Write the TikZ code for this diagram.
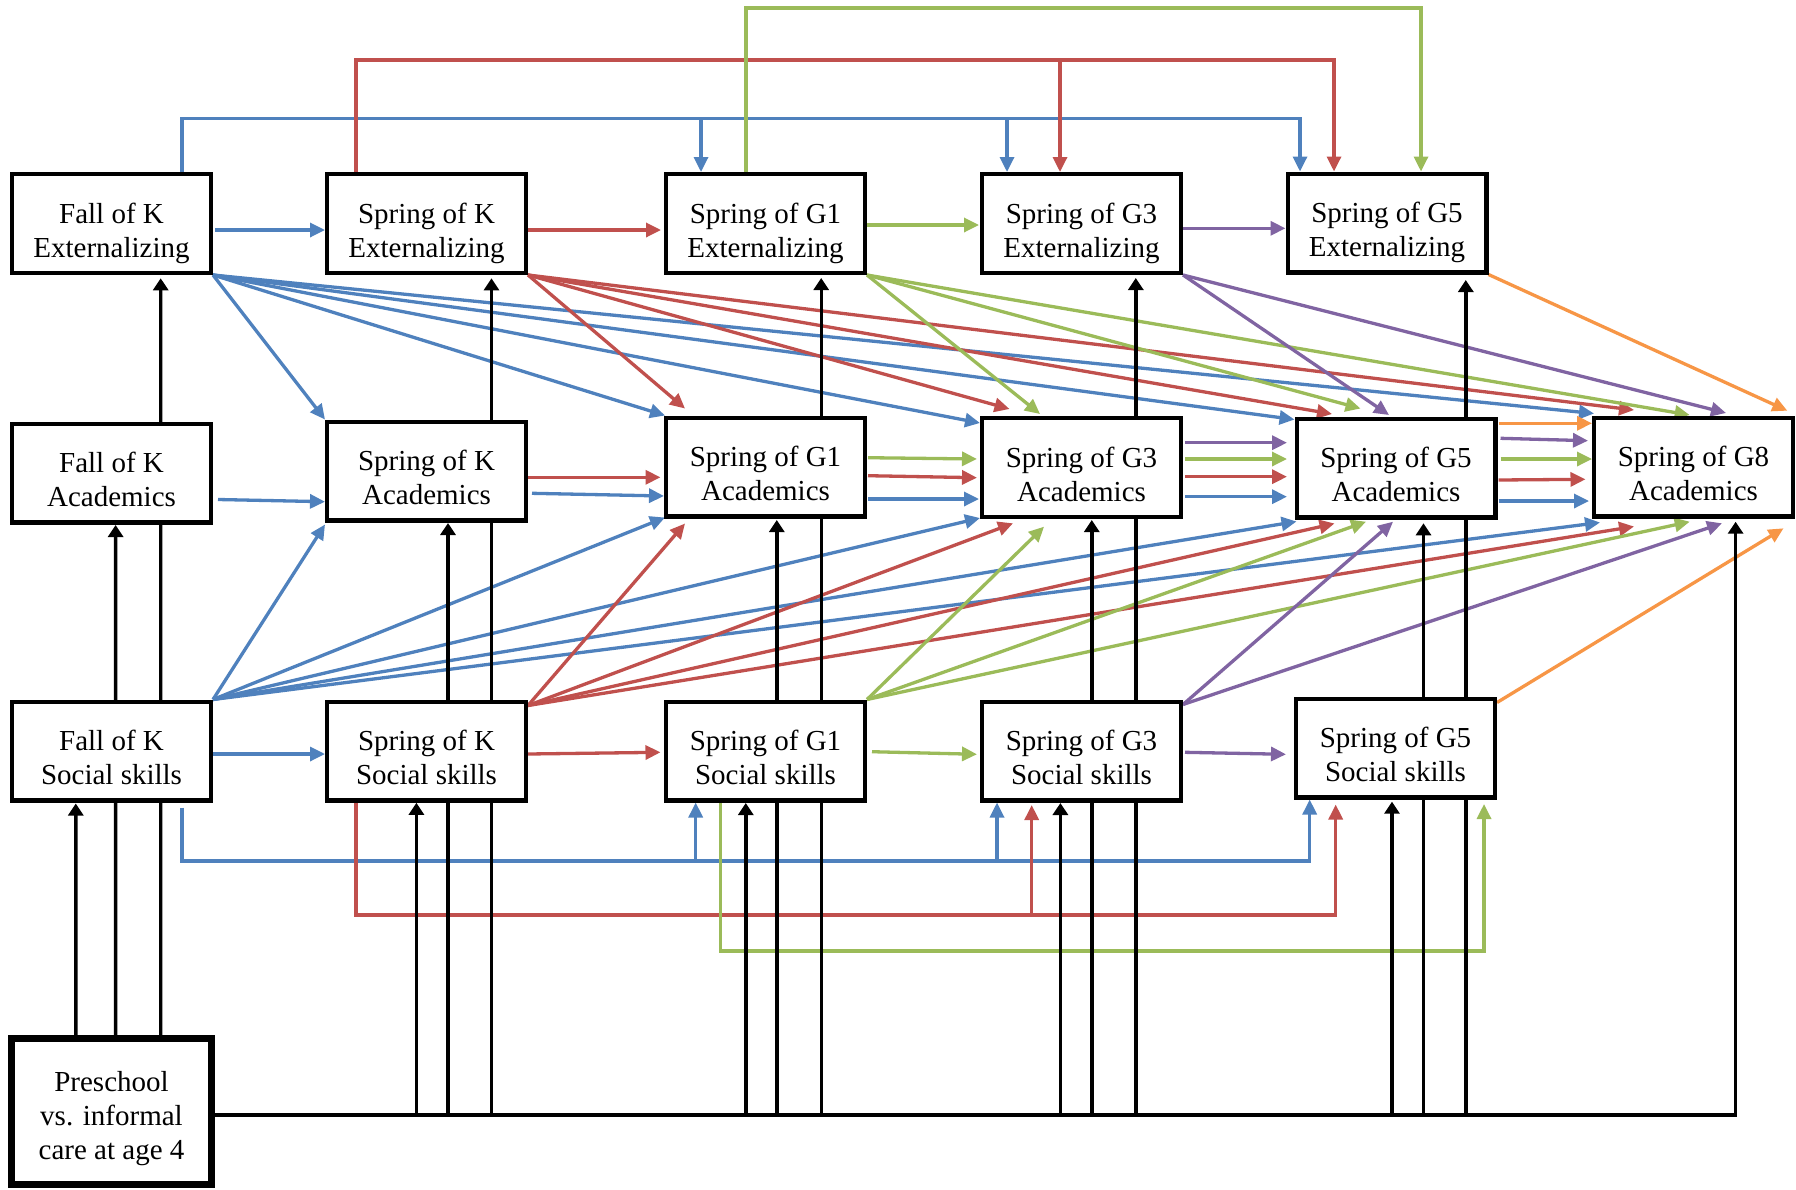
\documentclass[tikz,border=0pt]{standalone}
\usepackage{fontspec}
\setmainfont{Liberation Serif}
\usetikzlibrary{arrows.meta,calc,backgrounds}
\definecolor{cB}{HTML}{4F81BD}
\definecolor{cR}{HTML}{C0504D}
\definecolor{cG}{HTML}{9BBB59}
\definecolor{cP}{HTML}{8064A2}
\definecolor{cO}{HTML}{F79646}
\newcommand{\twol}[2]{\raisebox{-10pt}[\height][\depth]{\begin{tabular}{@{}c@{}}#1\\#2\end{tabular}}}
\begin{document}
\begin{tikzpicture}[x=1pt,y=-1pt,
  bx/.style={draw, line width=4.2pt, fill=white, minimum width=198.8pt, minimum height=98.8pt, inner sep=0pt, font=\fontsize{29}{34}\selectfont},
  arr/.style={-{Triangle[length=15pt,width=14pt]}},
  cl/.style={line width=3.3pt, arr},
  lB/.style={cl, draw=cB},
  lR/.style={cl, draw=cR},
  lG/.style={cl, draw=cG},
  lP/.style={cl, draw=cP},
  lO/.style={cl, draw=cO},
  bka/.style={line width=3.4pt, draw=black, -{Triangle[length=12pt,width=15pt]}}]
\useasboundingbox (0,0) rectangle (1796,1189);
% nodes
\node[bx] (fkE) at (111.5,223.5) {\twol{Fall of K}{Externalizing}};
\node[bx] (skE) at (426.5,223.5) {\twol{Spring of K}{Externalizing}};
\node[bx] (g1E) at (765.5,223.5) {\twol{Spring of G1}{Externalizing}};
\node[bx] (g3E) at (1081.5,223.5) {\twol{Spring of G3}{Externalizing}};
\node[bx] (g5E) at (1387,223) {\twol{Spring of G5}{Externalizing}};
\node[bx] (fkA) at (111.5,473) {\twol{Fall of K}{Academics}};
\node[bx] (skA) at (426.5,471) {\twol{Spring of K}{Academics}};
\node[bx] (g1A) at (765.5,467) {\twol{Spring of G1}{Academics}};
\node[bx] (g3A) at (1081.5,467.5) {\twol{Spring of G3}{Academics}};
\node[bx] (g5A) at (1396,468) {\twol{Spring of G5}{Academics}};
\node[bx] (g8A) at (1693.5,467) {\twol{Spring of G8}{Academics}};
\node[bx] (fkS) at (111.5,751) {\twol{Fall of K}{Social skills}};
\node[bx] (skS) at (426.5,751) {\twol{Spring of K}{Social skills}};
\node[bx] (g1S) at (765.5,751) {\twol{Spring of G1}{Social skills}};
\node[bx] (g3S) at (1081.5,751) {\twol{Spring of G3}{Social skills}};
\node[bx] (g5S) at (1395.5,748) {\twol{Spring of G5}{Social skills}};
\node[bx, line width=7pt, minimum width=200pt, minimum height=146pt] (pre) at (111.5,1111.5)
  {\raisebox{-7.4pt}[\height][\depth]{\begin{tabular}{@{}c@{}}Preschool\\vs. informal\\care at age 4\end{tabular}}};

\begin{scope}[on background layer]
% ---------------- blue ----------------
\draw[lB] ($(fkE.east)+(2,6.5)$) -- ($(skE.west)+(0,6.5)$);
\coordinate (bT) at (0,118.5);
\coordinate (bc1) at ($(fkE.north west)+(172,0)$);
\coordinate (bc2) at ($(g5E.north west)+(14.5,0)$);
\draw[lB] (bc1) -- (bc1 |- bT) -- (bc2 |- bT) -- (bc2);
\coordinate (bc3) at ($(g1E.north west)+(37,0)$);
\coordinate (bc4) at ($(g3E.north west)+(27,0)$);
\draw[lB] (bc3 |- bT) -- (bc3);
\draw[lB] (bc4 |- bT) -- (bc4);
\draw[lB] (fkE.south east) -- (skA.north west);
\draw[lB] (fkE.south east) -- ($(g1A.north west)+(1,0)$);
\draw[lB] (fkE.south east) -- ($(g3A.north west)+(0,7)$);
\draw[lB] (fkE.south east) -- ($(g5A.north west)+(0,3)$);
\draw[lB] (fkE.south east) -- ($(g8A.north west)+(2,-2)$);
\draw[lB] ($(fkA.east)+(5,26.5)$) -- ($(skA.west)+(0,30.7)$);
\draw[lB] ($(fkS.east)+(0,3)$) -- ($(skS.west)+(0,3)$);
\draw[lB] (fkS.north east) -- ($(skA.south west)+(0,2)$);
\draw[lB] (fkS.north east) -- ($(g1A.south west)+(1,-1)$);
\draw[lB] (fkS.north east) -- ($(g3A.south west)+(0,-1)$);
\draw[lB] (fkS.north east) -- ($(g5A.south west)+(2,2)$);
\draw[lB] (fkS.north east) -- ($(g8A.south west)+(8,4)$);
\coordinate (bB) at (0,861);
\coordinate (bc5) at ($(fkS.south west)+(172,5)$);
\coordinate (bc6) at ($(g5S.south west)+(15.7,0)$);
\draw[lB] (bc5) -- (bc5 |- bB) -- (bc6 |- bB) -- (bc6);
\coordinate (bc7) at ($(g1S.south west)+(31.7,0)$);
\coordinate (bc8) at ($(g3S.south west)+(17,0)$);
\draw[lB] (bc7 |- bB) -- (bc7);
\draw[lB] (bc8 |- bB) -- (bc8);
\draw[lB] ($(skA.east)+(4,22.3)$) -- ($(g1A.west)+(0,29)$);
\draw[lB] ($(g1A.east)+(1,32)$) -- ($(g3A.west)+(-1,31.5)$);
\draw[lB] ($(g3A.east)+(2,29.2)$) -- ($(g5A.west)+(-7.5,28.7)$);
\draw[lB] ($(g5A.east)+(1,33)$) -- ($(g8A.west)+(-3,34)$);
% ---------------- red ----------------
\draw[lR] ($(skE.east)+(0,6.5)$) -- ($(g1E.west)+(-3,6.5)$);
\coordinate (rT) at (0,60);
\coordinate (rc1) at ($(skE.north west)+(31,0)$);
\coordinate (rc2) at ($(g5E.north west)+(48.5,0)$);
\draw[lR] (rc1) -- (rc1 |- rT) -- (rc2 |- rT) -- (rc2);
\coordinate (rc3) at ($(g3E.north west)+(80,0)$);
\draw[lR] (rc3 |- rT) -- (rc3);
\draw[lR] (skE.south east) -- ($(g1A.north west)+(21,-7)$);
\draw[lR] (skE.south east) -- ($(g3A.north west)+(29.5,-7)$);
\draw[lR] (skE.south east) -- ($(g5A.north west)+(37.5,-2.5)$);
\draw[lR] (skE.south east) -- ($(g8A.north west)+(42,-5.5)$);
\draw[lR] ($(skA.east)+(0,6.3)$) -- ($(g1A.west)+(-3.5,10.3)$);
\draw[lR] ($(g1A.east)+(1,8.7)$) -- ($(g3A.west)+(-3,10.2)$);
\draw[lR] ($(g3A.east)+(2,9.2)$) -- ($(g5A.west)+(-7.5,8.7)$);
\draw[lR] ($(g5A.east)+(1,12)$) -- ($(g8A.west)+(-6.5,12.3)$);
\draw[lR] ($(skS.east)+(0,3)$) -- ($(g1S.west)+(-3.5,1.3)$);
\coordinate (rc4) at ($(skS.north east)+(0,6)$);
\draw[lR] (rc4) -- ($(g1A.south west)+(21,5)$);
\draw[lR] (rc4) -- ($(g3A.south west)+(33,4.3)$);
\draw[lR] (rc4) -- ($(g5A.south west)+(40,4)$);
\draw[lR] (rc4) -- ($(g8A.south west)+(42,8)$);
\coordinate (rB) at (0,915);
\coordinate (rc5) at ($(skS.south west)+(31,0)$);
\coordinate (rc6) at ($(g5S.south west)+(41.7,5)$);
\draw[lR] (rc5) -- (rc5 |- rB) -- (rc6 |- rB) -- (rc6);
\coordinate (rc7) at ($(g3S.south west)+(51.7,2.5)$);
\draw[lR] (rc7 |- rB) -- (rc7);
% ---------------- green ----------------
\draw[lG] ($(g1E.east)+(0,1.5)$) -- ($(g3E.west)+(-1,1.5)$);
\coordinate (gT) at (0,8);
\coordinate (gc1) at ($(g1E.north west)+(82,0)$);
\coordinate (gc2) at ($(g5E.north west)+(135.5,0)$);
\draw[lG] (gc1) -- (gc1 |- gT) -- (gc2 |- gT) -- (gc2);
\draw[lG] (g1E.south east) -- ($(g3A.north west)+(60,-2)$);
\draw[lG] (g1E.south east) -- ($(g5A.north west)+(66,-8)$);
\draw[lG] (g1E.south east) -- ($(g8A.north west)+(97.7,-0.5)$);
\draw[lG] ($(g1A.east)+(1,-9.3)$) -- ($(g3A.west)+(-3,-8.5)$);
\draw[lG] ($(g3A.east)+(2,-8.5)$) -- ($(g5A.west)+(-7.5,-9)$);
\draw[lG] ($(g5A.east)+(3,-9)$) -- ($(g8A.west)+(0,-8)$);
\draw[lG] ($(g1S.east)+(5,0.7)$) -- ($(g3S.west)+(-3,3.3)$);
\draw[lG] (g1S.north east) -- ($(g3A.south west)+(64,7.7)$);
\draw[lG] (g1S.north east) -- ($(g5A.south west)+(71.5,2.2)$);
\draw[lG] (g1S.north east) -- ($(g8A.south west)+(97.7,3.2)$);
\coordinate (gB) at (0,951);
\coordinate (gc3) at ($(g1S.south west)+(56.5,0)$);
\coordinate (gc4) at ($(g5S.south west)+(190,4.5)$);
\draw[lG] (gc3) -- (gc3 |- gB) -- (gc4 |- gB) -- (gc4);
% ---------------- purple ----------------
\draw[lP] ($(g3E.east)+(0,4.8)$) -- ($(g5E.west)+(0,5.3)$);
\draw[lP] (g3E.south east) -- ($(g5A.north west)+(94.5,-1.5)$);
\draw[lP] (g3E.south east) -- ($(g8A.north west)+(134,-2.5)$);
\draw[lP] ($(g3A.east)+(2,-24.8)$) -- ($(g5A.west)+(-7.5,-25.3)$);
\draw[lP] ($(g5A.east)+(3,-29.7)$) -- ($(g8A.west)+(-4,-26.3)$);
\draw[lP] ($(g3S.east)+(2,1.3)$) -- ($(g5S.west)+(-8,6.3)$);
\coordinate (pc1) at ($(g3S.north east)+(0,5)$);
\draw[lP] (pc1) -- ($(g5A.south west)+(98.5,2.2)$);
\draw[lP] (pc1) -- ($(g8A.south west)+(130,4.8)$);
% ---------------- orange ----------------
\draw[lO] (g5E.south east) -- ($(g8A.north east)+(-7.7,-4.8)$);
\draw[lO] ($(g5S.north east)+(0,6)$) -- ($(g8A.south east)+(-11.5,9.8)$);
\draw[lO] ($(g5A.east)+(1,-44.7)$) -- ($(g8A.west)+(0,-43.7)$);
% ---------------- black ----------------
\draw[bka] ($(pre.north west)+(67.8,0)$) -- ($(fkS.south west)+(65.8,1)$);
\draw[bka] ($(pre.north west)+(107.6,0)$) -- ($(fkA.south west)+(105.6,0.5)$);
\draw[bka] ($(pre.north west)+(152.7,0)$) -- ($(fkE.south west)+(150.7,3.3)$);
\coordinate (bus) at ($(pre.east)+(0,3.5)$);
\coordinate (k8) at ($(g8A.south west)+(143.6,3.2)$);
\draw[bka] (bus) -- (k8 |- bus) -- (k8);
\foreach \nm/\dx/\dy in {skS/91.4/0.3, skA/123/0.5, skE/166.5/3.3, g1S/81.8/0.5, g1A/112.8/1.5, g1E/157.2/3, g3S/80.4/0.5, g3A/111.8/1, g3E/155.8/3, g5S/98/2.2, g5A/129/3.8, g5E/180.3/5.5}{
  \path ($(\nm.south west)+(\dx,\dy)$) coordinate (kk);
  \draw[bka] (kk |- bus) -- (kk);
}
\end{scope}
\end{tikzpicture}
\end{document}
